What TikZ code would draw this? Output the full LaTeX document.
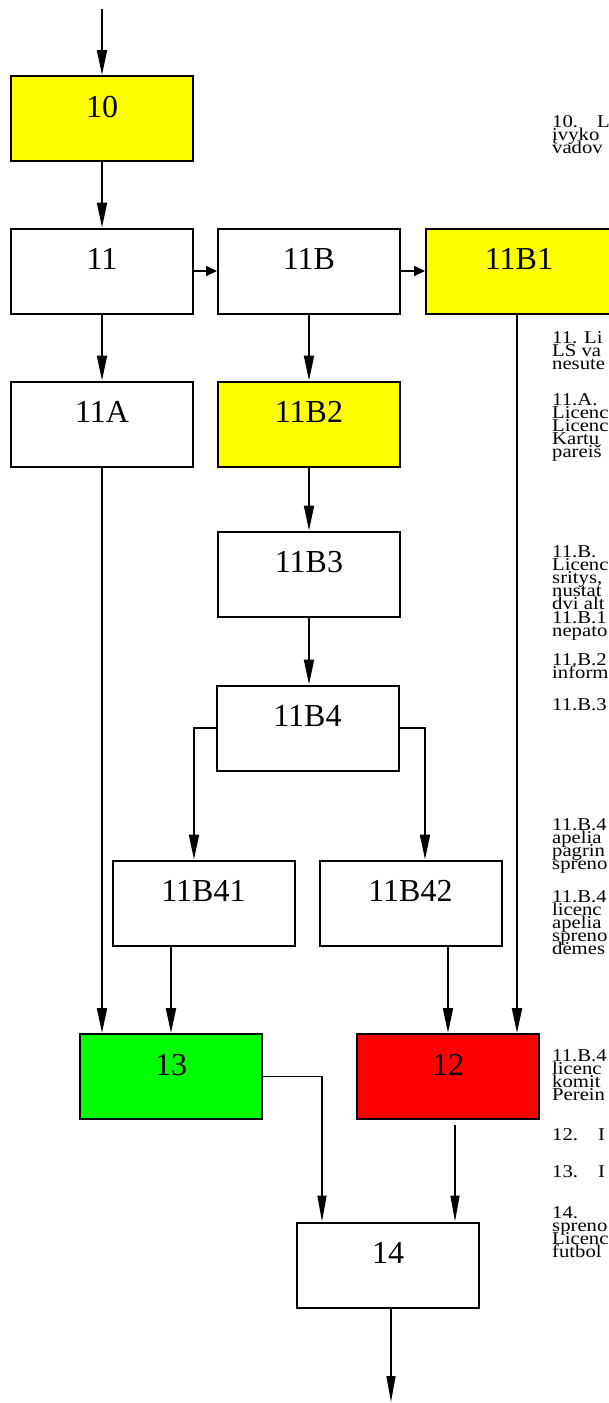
\documentclass[tikz,border=0pt]{standalone}
\usepackage{fontspec}
\setmainfont{Liberation Serif}
\newfontfamily\notefont[FakeStretch=1.15]{Liberation Serif}
\usetikzlibrary{positioning, arrows.meta}
\definecolor{stageyellow}{RGB}{255,255,0}
\definecolor{stagegreen}{RGB}{0,255,0}
\definecolor{stagered}{RGB}{255,0,0}

\begin{document}
\begin{tikzpicture}[
    x=1pt, y=-1pt,
    stage/.style={rectangle, draw=black, line width=2pt, fill=white, minimum width=182pt, minimum height=85pt, inner sep=0pt, text height=20pt, text depth=23pt, font=\fontsize{32}{38}\selectfont},
    arrow/.style={line width=2pt, -{Triangle[length=25pt, width=10pt]}},
    thinarrow/.style={line width=1.3pt, -{Triangle[length=26pt, width=9pt]}},
    shortarrow/.style={line width=1.6pt, -{Triangle[length=11pt, width=10pt]}},
    note/.style={anchor=base west, inner sep=0pt, align=left, font={\notefont\fontsize{18}{13.2}\selectfont\lineskiplimit=-30pt}}
]
\useasboundingbox (0,0) rectangle (609,1403);
\clip (0,0) rectangle (609,1403);

% Etapai (blokai)
\node[stage, fill=stageyellow] (b10) at (102,118.5) {10};
\node[stage] (b11) at (102,271) {11};
\node[stage] (b11B) at (309,271) {11B};
\node[stage, fill=stageyellow, minimum width=186pt] (b11B1) at (519,271) {11B1};
\node[stage] (b11A) at (102,424) {11A};
\node[stage, fill=stageyellow] (b11B2) at (309,424) {11B2};
\node[stage] (b11B3) at (309,574) {11B3};
\node[stage] (b11B4) at (307.5,728) {11B4};
\node[stage] (b11B41) at (203.5,903) {11B41};
\node[stage] (b11B42) at (410.5,903) {11B42};
\node[stage, fill=stagegreen] (b13) at (171,1076.5) {13};
\node[stage, fill=stagered] (b12) at (448,1076.5) {12};
\node[stage] (b14) at (388,1265) {14};

% Laisvi galai
\coordinate (in) at (102,9);
\coordinate (out) at (391,1402);
\coordinate (b12out) at ([yshift=-5pt]b12.south);
\coordinate (b14inl) at ([xshift=-66pt]b14.north);
\coordinate (b14inr) at ([xshift=67pt]b14.north);
\coordinate (b12inr) at (517,0);

% Jungtys
\draw[arrow] (in) -- (b10);
\draw[arrow] (b10) -- (b11);
\draw[shortarrow] (b11) -- (b11B);
\draw[shortarrow] (b11B) -- (b11B1);
\draw[arrow] (b11) -- (b11A);
\draw[arrow] (b11B) -- (b11B2);
\draw[arrow] (b11B2) -- (b11B3);
\draw[arrow] (b11B3.south) -- (b11B3.south |- b11B4.north);
\draw[arrow] (b11B4.west) -| ([xshift=-9.5pt]b11B41.north);
\draw[arrow] (b11B4.east) -| ([xshift=14.5pt]b11B42.north);
\draw[arrow] (b11A) -- (b11A |- b13.north);
\draw[arrow] (b11B41.south -| b13) -- (b13);
\draw[arrow] (b11B42.south -| b12) -- (b12);
\draw[arrow] (b12inr |- b11B1.south) -- (b12inr |- b12.north);
\draw[thinarrow] (b13) -| (b14inl);
\draw[thinarrow] (b14inr |- b12out) -- (b14inr);
\draw[thinarrow] (b14.south -| out) -- (out);

% Paaiskinimai (nukirpti desineje); y = paskutines eilutes bazine linija
\node[note] (t10) at (552,153.4) {10.\hspace{19pt}L\\įvyko\\vadov};
\node[note] (t11) at (552,369.4) {11. Li\\LS va\\nesute};
\node[note] (t11A) at (552,457.8) {11.A.\\Licenc\\Licenc\\Kartu\\pareiš};
\node[note] (t11B) at (552,636.2) {11.B.\\Licenc\\sritys,\\nustat\\dvi alt\\11.B.1\\nepato};
\node[note] (t11B2) at (552,678.2) {11.B.2\\inform};
\node[note] (t11B3) at (552,710) {11.B.3};
\node[note] (t11B41) at (552,869.6) {11.B.4\\apelia\\pagrin\\spreno};
\node[note] (t11B42) at (552,954.8) {11.B.4\\licenc\\apelia\\spreno\\dėmes};
\node[note] (t11B43) at (552,1100.6) {11.B.4\\licenc\\komit\\Perein};
\node[note] (t12) at (552,1140) {12.\hspace{20pt}I};
\node[note] (t13) at (552,1177) {13.\hspace{20pt}I};
\node[note] (t14) at (552,1257.6) {14.\\spreno\\Licenc\\futbol};

\end{tikzpicture}
\end{document}
